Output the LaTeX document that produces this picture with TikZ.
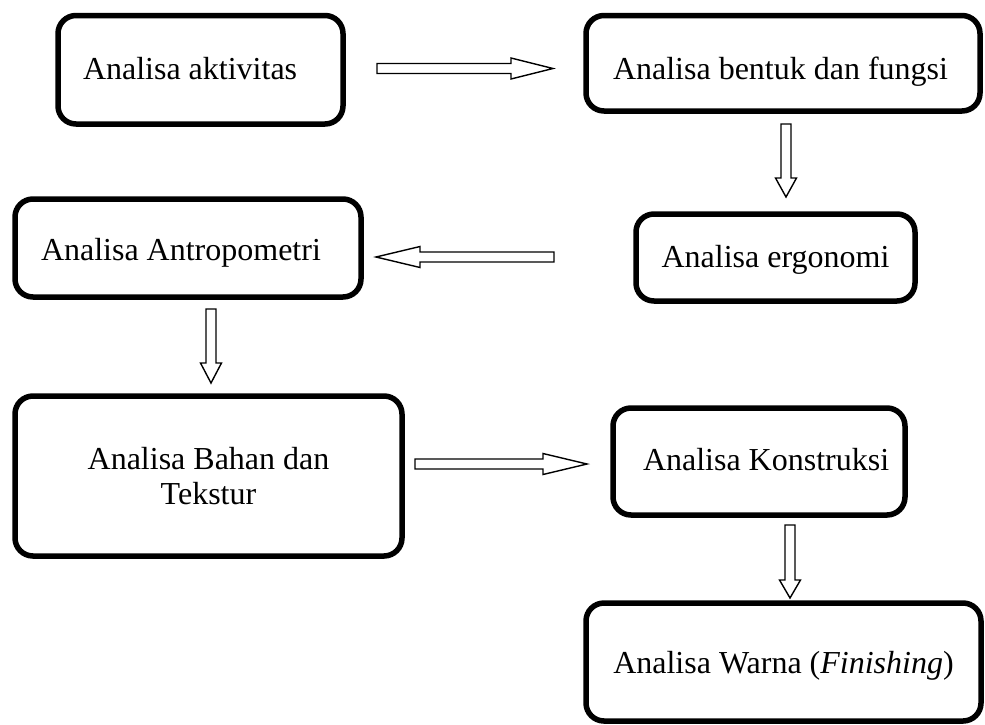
\documentclass[tikz,border=0pt]{standalone}
\usepackage{fontspec}
\setmainfont{Liberation Serif}
\newcommand\lefttext[3]{\makebox[#1][l]{\hspace*{#2}#3}}
\begin{document}
\begin{tikzpicture}[x=1pt,y=-1pt,
  box/.style={draw, line width=5.5pt, rounded corners=18pt, outer sep=0pt,
    inner ysep=0pt, inner xsep=0pt, anchor=north west, font=\fontsize{32}{35}\selectfont},
  arrline/.style={draw, line width=1.4pt, fill=white, line join=miter},
  pics/barrow/.style 2 args={code={
    \path[arrline] (0,-5) -- (#1-#2,-5) -- (#1-#2,-10.5) -- (#1,0) -- (#1-#2,10.5) -- (#1-#2,5) -- (0,5) -- cycle;
  }}]
\useasboundingbox (0,0) rectangle (985,724);
\fill[white] (0,0) rectangle (985,724);
\clip (0,0) rectangle (985,724);

% boxes
\node[box, minimum width=285pt, minimum height=108.5pt, text height=18.5pt, text depth=0pt] (b1) at (58,15.5) {\lefttext{285pt}{25pt}{Analisa aktivitas}};
\node[box, minimum width=394pt, minimum height=95.5pt, text height=31.5pt, text depth=0pt] (b2) at (586,15.5) {\lefttext{394pt}{27pt}{Analisa bentuk dan fungsi}};
\node[box, minimum width=279pt, minimum height=87pt, align=center, text height=19pt, text depth=0pt] (b3) at (636,214) {Analisa ergonomi};
\node[box, minimum width=346pt, minimum height=98pt, text height=24pt, text depth=0pt] (b4) at (15,199) {\lefttext{346pt}{26pt}{Analisa Antropometri}};
\node[box, minimum width=387pt, minimum height=160pt, align=center] (b5) at (15,396) {Analisa Bahan dan\\Tekstur};
\node[box, minimum width=292pt, minimum height=107pt, text height=17pt, text depth=0pt] (b6) at (613,408) {\lefttext{292pt}{30pt}{Analisa Konstruksi}};
\node[box, minimum width=395pt, minimum height=118pt, align=center, text height=22pt, text depth=0pt] (b7) at (586,603) {Analisa Warna (\textit{Finishing})};

% arrow start points
\coordinate (a1s) at (377,68.5);
\coordinate (a2s) at (786,124);
\coordinate (a3s) at (554,257);
\coordinate (a4s) at (211,309);
\coordinate (a5s) at (415,464);
\coordinate (a6s) at (790,525);

\pic at (a1s) {barrow={176}{42}};
\pic[rotate=-90] at (a2s) {barrow={73}{19}};
\pic[rotate=180] at (a3s) {barrow={178}{44}};
\pic[rotate=-90] at (a4s) {barrow={74}{20}};
\pic at (a5s) {barrow={172}{44}};
\pic[rotate=-90] at (a6s) {barrow={73}{18}};
\end{tikzpicture}
\end{document}
